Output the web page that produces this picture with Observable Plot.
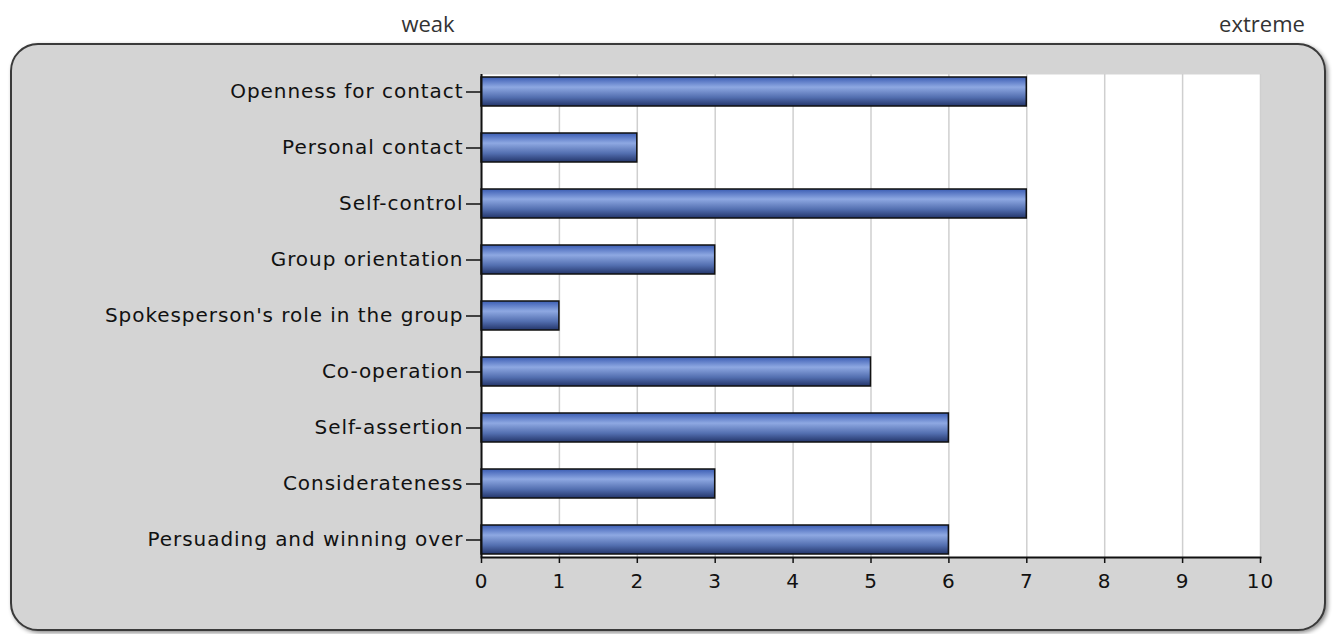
<!DOCTYPE html>
<html>
<head>
<meta charset="utf-8">
<script src="https://cdn.jsdelivr.net/npm/d3@7"></script>
<script src="https://cdn.jsdelivr.net/npm/@observablehq/plot@0.6"></script>
<style>
  html, body { margin: 0; padding: 0; background: #fff; }
  #wrap { position: relative; width: 1335px; height: 634px; overflow: hidden; }
  .hdr { position: absolute; top: 8px; font-family: "Open Sans", sans-serif; font-size: 22px; color: #333; transform: translateX(-50%); white-space: nowrap; }
  #panel { position: absolute; left: 10px; top: 43px; width: 1312px; height: 584px; border: 2px solid #3a3a3a; border-radius: 28px; background: #d4d4d4; box-shadow: 2px 2px 4px rgba(0,0,0,0.45); }
  #chart { position: absolute; left: 0; top: 0; }
</style>
</head>
<body>
<div id="wrap">
  <div class="hdr" id="weak" style="left:428px">weak</div>
  <div class="hdr" id="extreme" style="left:1262px">extreme</div>
  <div id="panel"></div>
  <div id="chart"></div>
</div>
<script>
const categories = [
  "Openness for contact",
  "Personal contact",
  "Self-control",
  "Group orientation",
  "Spokesperson's role in the group",
  "Co-operation",
  "Self-assertion",
  "Considerateness",
  "Persuading and winning over"
];
const values = [7, 2, 7, 3, 1, 5, 6, 3, 6];
const xTicks = [0, 1, 2, 3, 4, 5, 6, 7, 8, 9, 10];

const data = categories.map((c, i) => ({category: c, value: values[i]}));

const svg = Plot.plot({
  width: 1335,
  height: 634,
  marginLeft: 481,
  marginRight: 75,
  marginTop: 74,
  marginBottom: 77,
  style: {background: "transparent", fontFamily: "DejaVu Sans, sans-serif", fontSize: "20px", color: "#111"},
  x: {domain: [0, 10], ticks: xTicks},
  y: {domain: categories, paddingInner: 0.49, paddingOuter: 0},
  marks: [
    Plot.frame({fill: "white", stroke: "none"}),
    Plot.gridX(xTicks, {stroke: "#cfcfcf", strokeOpacity: 1, strokeWidth: 1.5}),
    Plot.barX(data, {x: "value", y: "category", fill: "url(#barGrad)", stroke: "#111", strokeWidth: 1.5}),
    Plot.axisX(xTicks, {tickSize: 6, tickPadding: 10, stroke: "#111", strokeWidth: 1.5, label: null, tickFormat: d => String(d)}),
    Plot.axisY({tickSize: 15, tickPadding: 3, label: null, stroke: "#111", strokeWidth: 1.5}),
    Plot.ruleX([0], {stroke: "#111", strokeWidth: 2}),
    Plot.frame({anchor: "bottom", stroke: "#111", strokeWidth: 2})
  ]
});

svg.style.letterSpacing = "0.95px";
const defs = d3.select(svg).insert("defs", ":first-child");
const grad = defs.append("linearGradient").attr("id", "barGrad")
  .attr("x1", 0).attr("y1", 0).attr("x2", 0).attr("y2", 1);
[["0%", "#3b5db4"], ["35%", "#8ea8e2"], ["70%", "#536fb0"], ["100%", "#23356a"]]
  .forEach(([o, c]) => grad.append("stop").attr("offset", o).attr("stop-color", c));

document.getElementById("chart").appendChild(svg);
</script>
</body>
</html>
